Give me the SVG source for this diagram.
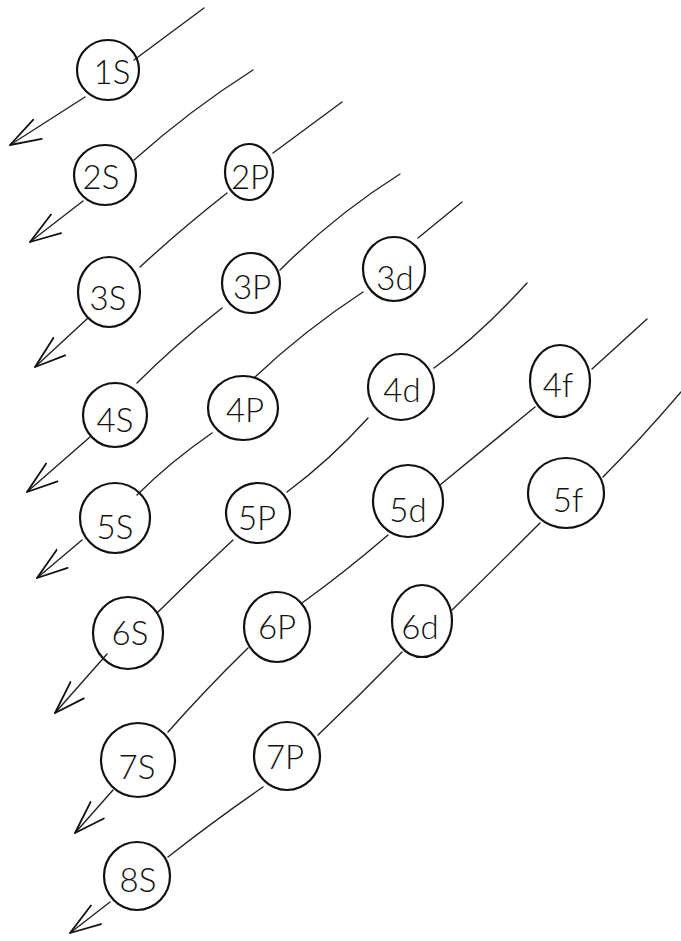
<svg xmlns="http://www.w3.org/2000/svg" width="681" height="941" viewBox="0 0 681 941">
  <style>
    .orb { fill: none; stroke: #111; stroke-width: 2.2; }
    .lbl { font-family: Lato, "Liberation Sans", sans-serif; font-weight: 300; font-size: 33px; fill: #111; text-anchor: middle; }
    .flow { fill: none; stroke: #222; stroke-width: 1.4; stroke-linecap: round; marker-end: url(#vhead); }
  </style>
  <defs>
    <marker id="vhead" markerUnits="userSpaceOnUse" viewBox="-34 -16 38 32" markerWidth="38" markerHeight="32" refX="0" refY="0" orient="auto">
      <path d="M -30 -12 L 0 0 L -34 9" fill="none" stroke="#111" stroke-width="1.8" stroke-linecap="round" stroke-linejoin="round"/>
    </marker>
  </defs>
  <rect width="681" height="941" fill="#fff"/>

  <!-- diagonal filling-order arrows -->
  <g id="connectors">
    <path class="flow" d="M 204 8 L 134 60 M 85 97 L 10 145"/>
    <path class="flow" d="M 253 70 Q 190 110 134 160 M 83 201 L 30 242"/>
    <path class="flow" d="M 342 102 L 273 153 M 227 193 Q 180 230 140 267 M 88 318 L 35 367"/>
    <path class="flow" d="M 400 174 Q 335 215 280 270 M 222 308 Q 175 345 137 383 M 90 437 L 27 492"/>
    <path class="flow" d="M 462 202 L 418 238 M 363 292 Q 305 330 255 377 M 212 433 Q 170 462 137 495 M 82 540 L 37 578"/>
    <path class="flow" d="M 527 283 Q 480 335 434 368 M 368 418 Q 330 460 287 492 M 233 540 Q 195 575 157 613 M 107 654 L 55 713"/>
    <path class="flow" d="M 647 319 L 592 369 M 535 407 Q 485 448 440 485 M 388 535 Q 345 572 302 603 M 248 648 Q 205 690 168 732 M 113 790 L 75 833"/>
    <path class="flow" d="M 681 392 Q 640 440 603 477 M 540 523 Q 495 568 452 610 M 402 652 Q 360 695 318 735 M 263 787 Q 215 820 168 857 M 110 902 L 70 933"/>
  </g>

  <!-- orbitals -->
  <g id="o1s"><ellipse class="orb" cx="108" cy="70" rx="31" ry="30"/><text class="lbl" x="112" y="84">1S</text></g>
  <g id="o2s"><ellipse class="orb" cx="105" cy="175" rx="31" ry="30"/><text class="lbl" x="101" y="189">2S</text></g>
  <g id="o2p"><ellipse class="orb" cx="249" cy="172" rx="24" ry="28"/><text class="lbl" x="250" y="189">2P</text></g>
  <g id="o3s"><ellipse class="orb" cx="109" cy="292" rx="31" ry="35"/><text class="lbl" x="108" y="310">3S</text></g>
  <g id="o3p"><ellipse class="orb" cx="251" cy="283" rx="29" ry="30"/><text class="lbl" x="252" y="299">3P</text></g>
  <g id="o3d"><ellipse class="orb" cx="394" cy="269" rx="31" ry="32"/><text class="lbl" x="395" y="290">3d</text></g>
  <g id="o4s"><ellipse class="orb" cx="115" cy="415" rx="32" ry="32"/><text class="lbl" x="115" y="432">4S</text></g>
  <g id="o4p"><ellipse class="orb" cx="243" cy="408" rx="35" ry="32"/><text class="lbl" x="245" y="422">4P</text></g>
  <g id="o4d"><ellipse class="orb" cx="401" cy="387" rx="33" ry="33"/><text class="lbl" x="402" y="402">4d</text></g>
  <g id="o4f"><ellipse class="orb" cx="560" cy="381" rx="30" ry="36"/><text class="lbl" x="558" y="397">4f</text></g>
  <g id="o5s"><ellipse class="orb" cx="115" cy="518" rx="35" ry="35"/><text class="lbl" x="115" y="539">5S</text></g>
  <g id="o5p"><ellipse class="orb" cx="258" cy="513" rx="32" ry="30"/><text class="lbl" x="257" y="530">5P</text></g>
  <g id="o5d"><ellipse class="orb" cx="408" cy="501" rx="35" ry="36"/><text class="lbl" x="408" y="522">5d</text></g>
  <g id="o5f"><ellipse class="orb" cx="566" cy="493" rx="38" ry="35"/><text class="lbl" x="568" y="512">5f</text></g>
  <g id="o6s"><ellipse class="orb" cx="128" cy="633" rx="35" ry="36"/><text class="lbl" x="130" y="645">6S</text></g>
  <g id="o6p"><ellipse class="orb" cx="277" cy="627" rx="33" ry="35"/><text class="lbl" x="277" y="639">6P</text></g>
  <g id="o6d"><ellipse class="orb" cx="422" cy="621" rx="30" ry="36"/><text class="lbl" x="420" y="639">6d</text></g>
  <g id="o7s"><ellipse class="orb" cx="138" cy="760" rx="37" ry="37"/><text class="lbl" x="137" y="779">7S</text></g>
  <g id="o7p"><ellipse class="orb" cx="287" cy="756" rx="33" ry="34"/><text class="lbl" x="285" y="769">7P</text></g>
  <g id="o8s"><ellipse class="orb" cx="137" cy="876" rx="33" ry="34"/><text class="lbl" x="138" y="892">8S</text></g>
</svg>
